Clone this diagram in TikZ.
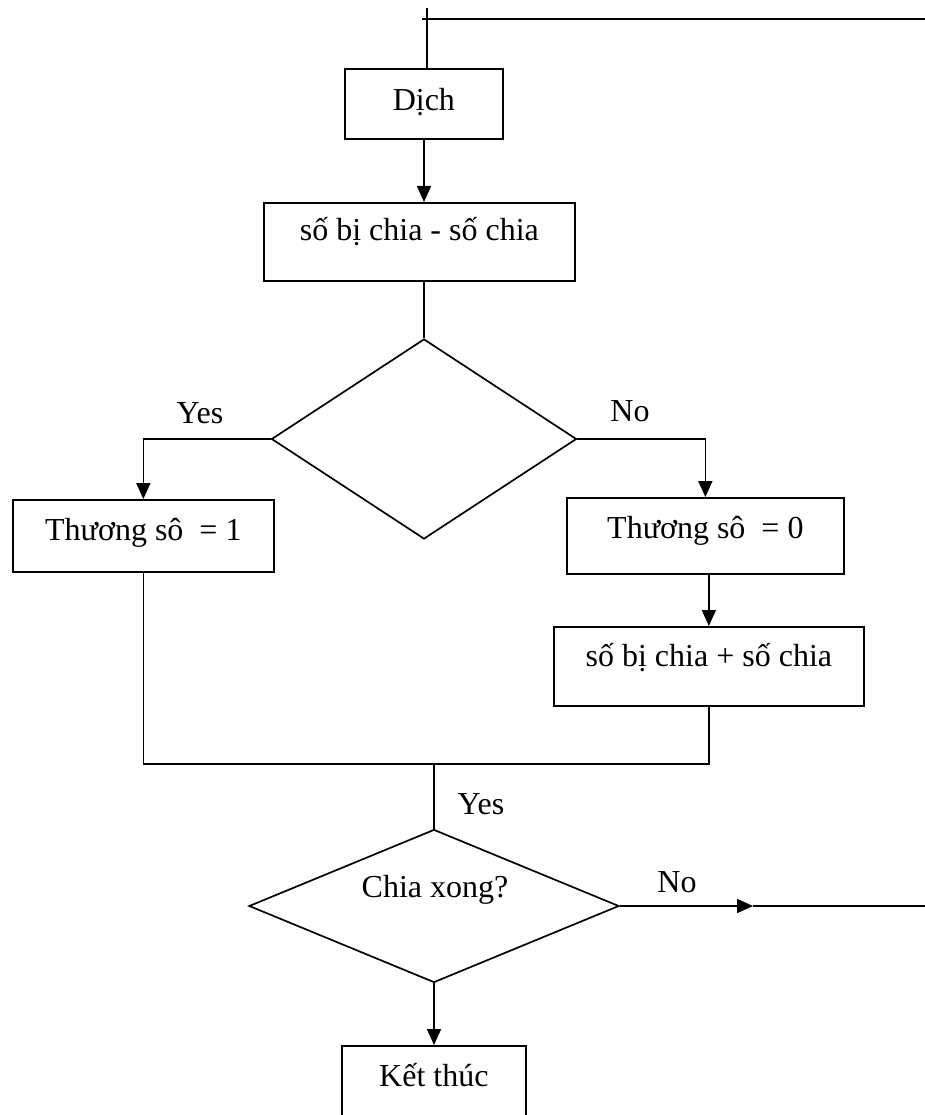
\documentclass[tikz,border=0pt]{standalone}
\usepackage{fontspec}
\setmainfont{Liberation Serif}
\usetikzlibrary{shapes.geometric,arrows.meta}
\begin{document}
\begin{tikzpicture}[x=1pt,y=-1pt,
  line width=1.7pt,
  every node/.style={font=\fontsize{32}{38}\selectfont},
  % box: width, space above baseline, space below baseline
  procbox/.style n args={3}{draw, anchor=north west, inner sep=0pt,
    minimum width=#1pt, text height=#2pt, text depth=#3pt},
  decision/.style={draw, diamond, inner sep=0pt},
  flowarrow/.style={-{Triangle[length=16pt,width=14pt]}},
  tag/.style={inner sep=0pt}
]
\useasboundingbox (0,0) rectangle (925,1115);
\clip (0,0) rectangle (925,1115);

% process boxes
\node[procbox={158}{42}{28}] (dich) at (344,68) {Dịch};
\node[procbox={311}{38}{40}] (sub) at (263,202) {số bị chia - số chia};
\node[procbox={261}{41}{31}] (one) at (12,499) {Thương sô\ \ = 1};
\node[procbox={277}{41}{35}] (zero) at (566,497) {Thương sô\ \ = 0};
\node[procbox={310}{40}{39}] (add) at (553,626) {số bị chia + số chia};
\node[procbox={184}{41}{45}] (stop) at (341,1045) {Kết thúc};

% decisions
\node[decision, minimum width=305pt, minimum height=200pt] (q1) at (424,439) {};
\node[decision, minimum width=370pt, minimum height=153pt] (q2) at (434,906) {};
\node[tag] (q2text) at (435,890) {Chia xong?};

% branch labels
\node[tag] (yes1) at (200,413) {Yes};
\node[tag] (no1) at (630,411) {No};
\node[tag] (yes2) at (481,804) {Yes};
\node[tag] (no2) at (677,882) {No};

% loop-back line at the top
\coordinate (loopin) at (427,8);
\coordinate (loopcorner) at (422,19);
\coordinate (loopright) at (925,19);
\draw (loopin) -- (loopin |- dich.north);
\draw (loopcorner) -- (loopright);

% main flow
\draw[flowarrow] (dich.south -| 424,0) -- (sub.north -| 424,0);
\draw (sub.south -| q1.north) -- (q1.north);
\draw[flowarrow] (q1.west) -| (one.north);
\draw[flowarrow] (q1.east) -| (zero.north);
\draw[flowarrow] (zero.south -| add.north) -- (add.north);

% merge of both branches
\coordinate (merge) at (434,764);
\draw (one.south) -- (one.south |- merge) -- (add.south |- merge) -- (add.south);
\draw (merge) -- (q2.north);

% exits of the second decision
\coordinate (nomid) at (753,906);
\coordinate (exitright) at (925,906);
\draw[flowarrow] (q2.east) -- (nomid);
\draw (nomid) -- (exitright);
\draw[flowarrow] (q2.south) -- (stop.north -| q2.south);
\end{tikzpicture}
\end{document}
